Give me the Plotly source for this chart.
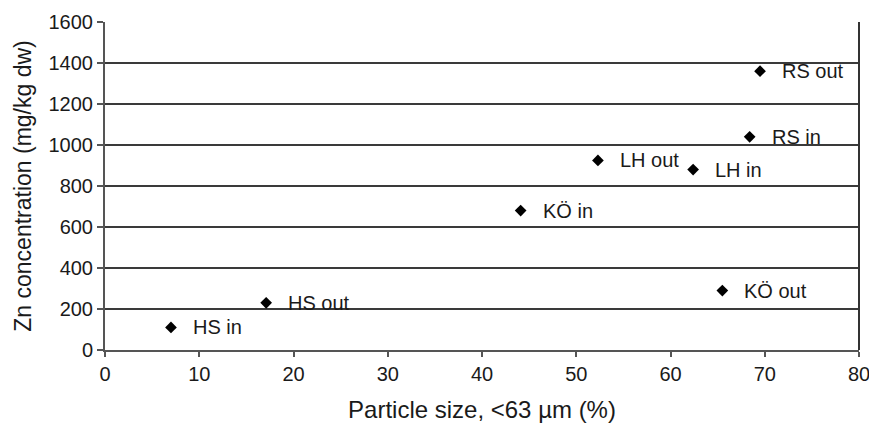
import plotly.graph_objects as go

labels = ["HS in", "HS out", "KÖ in", "LH out", "LH in", "RS in", "RS out", "KÖ out"]
particle_size = [7.0, 17.1, 44.1, 52.3, 62.4, 68.4, 69.5, 65.5]
zn_conc = [110, 230, 680, 925, 880, 1040, 1360, 290]

x_ticks = [0, 10, 20, 30, 40, 50, 60, 70, 80]
y_ticks = [0, 200, 400, 600, 800, 1000, 1200, 1400, 1600]

FONT = "Liberation Sans, Arial, sans-serif"
TXT = "#1a1a1a"

fig = go.Figure()
fig.add_trace(go.Scatter(
    x=particle_size, y=zn_conc, mode="markers",
    marker=dict(symbol="diamond", size=9, color="black"),
    showlegend=False, hoverinfo="skip",
))
for lab, xv, yv in zip(labels, particle_size, zn_conc):
    fig.add_annotation(x=xv, y=yv, text=lab, showarrow=False,
                       xanchor="left", yanchor="middle", xshift=20,
                       font=dict(family=FONT, size=20, color=TXT))

# page body has an 8px default margin, so the figure is sized to fit
fig.update_layout(
    width=869, height=415,
    margin=dict(l=97, r=18, t=14, b=73),
    paper_bgcolor="white", plot_bgcolor="white",
    font=dict(family=FONT, size=20, color=TXT),
)
fig.update_xaxes(
    range=[0, 80], tickvals=x_ticks, ticktext=[str(v) for v in x_ticks],
    showgrid=False, zeroline=False, automargin=False,
    showline=True, linecolor="#555555", linewidth=2, mirror=False,
    ticks="outside", ticklen=5, tickcolor="#555555", tickwidth=1.5,
    tickfont=dict(family=FONT, size=20, color=TXT),
    title=dict(text="Particle size, <63 µm (%)", standoff=18,
               font=dict(family=FONT, size=24, color=TXT)),
)
fig.update_yaxes(
    range=[0, 1600], tickvals=y_ticks, ticktext=[str(v) for v in y_ticks],
    showgrid=True, gridcolor="#3a3a3a", gridwidth=1.5, zeroline=False,
    automargin=False,
    showline=True, linecolor="#555555", linewidth=2,
    ticks="outside", ticklen=6, tickcolor="#555555", tickwidth=1.5,
    tickfont=dict(family=FONT, size=20, color=TXT),
    title=dict(text="Zn concentration (mg/kg dw)", standoff=10,
               font=dict(family=FONT, size=23, color=TXT)),
)
# right border line
fig.add_shape(type="line", xref="paper", yref="paper", x0=1, x1=1, y0=0, y1=1,
              line=dict(color="#333333", width=2))

fig.write_html("out.html")
